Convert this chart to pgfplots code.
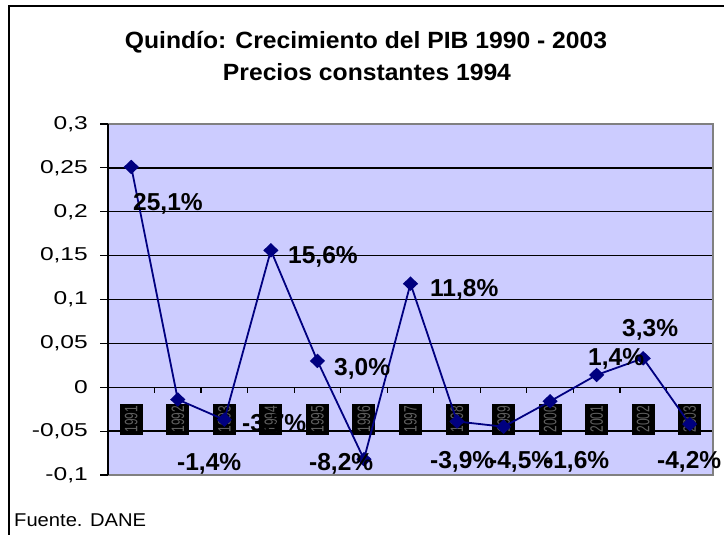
\documentclass[border=0pt]{standalone}
\usepackage{pgfplots}
\pgfplotsset{compat=1.18}
\usepackage{fontspec}
\setmainfont{Liberation Sans}
\newfontfamily\tickfont[FakeStretch=1.32]{Liberation Sans}
\newfontfamily\titlefont[FakeStretch=1.05]{Liberation Sans}
\newfontfamily\notefont[FakeStretch=1.09]{Liberation Sans}
\definecolor{plotbg}{RGB}{204,204,255}
\definecolor{navyline}{RGB}{0,0,128}
\definecolor{bordergray}{RGB}{128,128,128}
\definecolor{yeargray}{RGB}{95,95,95}
\begin{document}
\begin{tikzpicture}[x=1pt,y=1pt]
\useasboundingbox (0,0) rectangle (724,535);
\fill[white] (0,0) rectangle (724,535);
\draw[line width=2pt] (9,-2) -- (9,529) -- (726,529);
\node[anchor=base, inner sep=0, font=\titlefont\bfseries\fontsize{23.5}{28}\selectfont] at (366,486) {Quindío: Crecimiento del PIB 1990 - 2003};
\node[anchor=base, inner sep=0, font=\titlefont\bfseries\fontsize{23.5}{28}\selectfont] at (367,454) {Precios constantes 1994};
\node[anchor=base west, inner sep=0, font=\notefont\fontsize{18.5}{22}\selectfont] at (14,8) {Fuente. DANE};
\begin{axis}[
  at={(108pt,60pt)}, anchor=south west,
  scale only axis, width=605pt, height=351pt,
  xmin=-0.5, xmax=12.5, ymin=-0.1, ymax=0.3,
  xtick=\empty,
  ytick={-0.1,-0.05,0,0.05,0.1,0.15,0.2,0.25,0.3},
  yticklabels={{-0,1},{-0,05},{0},{0,05},{0,1},{0,15},{0,2},{0,25},{0,3}},
  ytick pos=left,
  tick align=outside,
  major tick length=8pt,
  tick style={black, line width=1.2pt},
  yticklabel style={font=\tickfont\fontsize{18.6}{22}\selectfont, inner sep=0pt, xshift=-12pt},
  axis line style={draw=none},
  axis background/.style={fill=plotbg},
  clip=false,
]
% gridlines
\pgfplotsinvokeforeach{-0.05,0,0.05,0.1,0.15,0.2,0.25}{
  \draw[black, line width=1.3pt] (axis cs:-0.5,#1) -- (axis cs:12.5,#1);
}
% x tick marks at category boundaries on the zero line
\pgfplotsinvokeforeach{0,...,13}{
  \draw[black, line width=1.2pt] (axis cs:#1-0.5,0) -- ([yshift=-6pt]axis cs:#1-0.5,0);
}
% year labels (black boxes)
\pgfplotsinvokeforeach{0,...,12}{
  \node[fill=black, text=yeargray, rotate=90, inner sep=0pt, minimum width=31pt, minimum height=23pt]
    at (axis cs:#1,-0.0362) {\scalebox{1}[1.5]{\fontsize{12}{12}\selectfont\pgfmathparse{int(1991+#1)}\pgfmathresult}};
}
\addplot[navyline, line width=1.8pt, mark=diamond*, mark size=6pt,
  mark options={xscale=1.4, fill=navyline, draw=navyline}]
  coordinates {
  (0,0.251) (1,-0.014) (2,-0.037) (3,0.156) (4,0.030) (5,-0.082) (6,0.118)
  (7,-0.039) (8,-0.045) (9,-0.016) (10,0.014) (11,0.033) (12,-0.042)
  };
% plot area border
\draw[bordergray, line width=1.6pt] (rel axis cs:0,1) -- (rel axis cs:1,1) -- (rel axis cs:1,0) -- (rel axis cs:0,0);
\draw[black, line width=1.6pt] (rel axis cs:0,0) -- (rel axis cs:0,1);
\end{axis}
\begin{scope}[every node/.style={anchor=base west, inner sep=0pt, font=\bfseries\fontsize{24.5}{29}\selectfont}]
\node at (133,324) {25,1\%};
\node at (177,64) {-1,4\%};
\node at (242,103) {-3,7\%};
\node at (288,271) {15,6\%};
\node at (334,159) {3,0\%};
\node at (309,64) {-8,2\%};
\node at (430,238) {11,8\%};
\node at (430,66) {-3,9\%};
\node at (489,66) {-4,5\%};
\node at (545,66) {-1,6\%};
\node at (588,169) {1,4\%};
\node at (622,198) {3,3\%};
\node at (657,66) {-4,2\%};
\end{scope}
\end{tikzpicture}
\end{document}
